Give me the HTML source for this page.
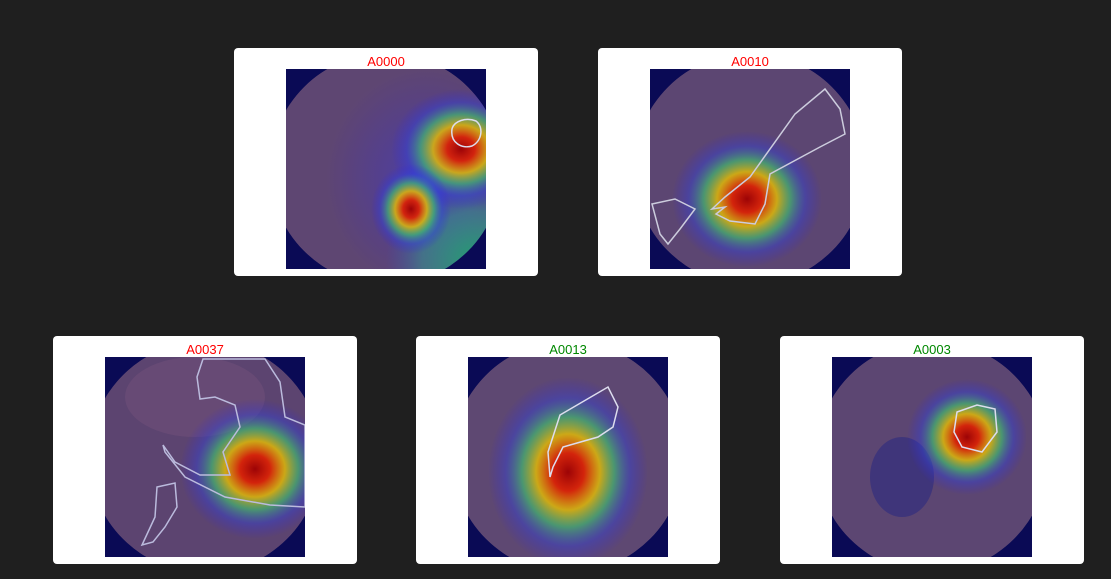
<!DOCTYPE html>
<html><head><meta charset="utf-8">
<style>
body{margin:0;width:1111px;height:579px;background:#1f1f1f;position:relative;overflow:hidden;font-family:"Liberation Sans",sans-serif}
.card{position:absolute;width:304px;height:228px;background:#fff;border-radius:4px}
.t{position:absolute;top:6px;left:0;width:100%;text-align:center;font-size:13px}
.card svg{position:absolute;left:52px;top:21px}
</style></head><body>
<svg width="0" height="0" style="position:absolute">
<defs>
<radialGradient id="heat">
<stop offset="0" stop-color="#a00000" stop-opacity="0.95"/>
<stop offset="0.2" stop-color="#e02000" stop-opacity="0.9"/>
<stop offset="0.4" stop-color="#e8c000" stop-opacity="0.8"/>
<stop offset="0.58" stop-color="#40c070" stop-opacity="0.65"/>
<stop offset="0.78" stop-color="#3040e0" stop-opacity="0.4"/>
<stop offset="1" stop-color="#3020e0" stop-opacity="0"/>
</radialGradient>
<radialGradient id="haze">
<stop offset="0" stop-color="#3a40e0" stop-opacity="0.5"/>
<stop offset="1" stop-color="#3a20d0" stop-opacity="0"/>
</radialGradient>
<radialGradient id="green" cx="0.9" cy="0.9" r="0.9">
<stop offset="0" stop-color="#20a070" stop-opacity="0.95"/>
<stop offset="0.6" stop-color="#30a090" stop-opacity="0.5"/>
<stop offset="1" stop-color="#3060c0" stop-opacity="0"/>
</radialGradient>
<clipPath id="cc"><circle cx="100" cy="100" r="116"/></clipPath>
</defs></svg>

<div class="card" style="left:234px;top:48px">
<div class="t" style="color:#f00">A0000</div>
<svg width="200" height="200">
<rect width="200" height="200" fill="#0a0a55"/>
<g clip-path="url(#cc)"><circle cx="100" cy="100" r="116" fill="#5e4672"/>
<ellipse cx="140" cy="110" rx="100" ry="110" fill="url(#haze)"/>
<rect x="100" y="110" width="100" height="90" fill="url(#green)"/>
<ellipse cx="175" cy="80" rx="70" ry="60" fill="url(#heat)"/>
<ellipse cx="125" cy="140" rx="40" ry="45" fill="url(#heat)"/>
</g>
<path d="M166,60 C168,52 180,48 190,52 C198,58 196,72 186,77 C176,80 164,74 166,60Z" fill="none" stroke="#dde" stroke-width="1.5"/>
</svg></div>

<div class="card" style="left:598px;top:48px">
<div class="t" style="color:#f00">A0010</div>
<svg width="200" height="200">
<rect width="200" height="200" fill="#0a0a55"/>
<g clip-path="url(#cc)"><circle cx="100" cy="100" r="116" fill="#5c4672"/>
<ellipse cx="97" cy="130" rx="75" ry="68" fill="url(#heat)"/>
</g>
<path d="M62,140 L75,128 L100,108 L145,45 L175,20 L190,40 L195,65 L170,78 L120,105 L115,135 L105,155 L80,152 L66,145 L75,138Z" fill="none" stroke="#ccd" stroke-width="1.5"/>
<path d="M2,135 L25,130 L45,140 L30,160 L18,175 L10,165Z" fill="none" stroke="#ccd" stroke-width="1.5"/>
</svg></div>

<div class="card" style="left:53px;top:336px">
<div class="t" style="color:#f00">A0037</div>
<svg width="200" height="200">
<rect width="200" height="200" fill="#0a0a55"/>
<g clip-path="url(#cc)"><circle cx="100" cy="100" r="116" fill="#5c4470"/>
<ellipse cx="90" cy="40" rx="70" ry="40" fill="#6e4e78" opacity="0.6"/>
<ellipse cx="150" cy="112" rx="75" ry="70" fill="url(#heat)"/>
</g>
<path d="M98,2 L160,2 L175,25 L180,60 L200,68 L200,150 L165,148 L120,140 L80,120 L60,95 L58,88 L70,105 L95,118 L125,118 L118,95 L135,70 L130,48 L110,40 L95,42 L92,20Z" fill="none" stroke="#bbd" stroke-width="1.5"/>
<path d="M52,130 L70,126 L72,150 L60,170 L48,185 L37,188 L50,160Z" fill="none" stroke="#bbd" stroke-width="1.5"/>
</svg></div>

<div class="card" style="left:416px;top:336px">
<div class="t" style="color:#080">A0013</div>
<svg width="200" height="200">
<rect width="200" height="200" fill="#0a0a55"/>
<g clip-path="url(#cc)"><circle cx="100" cy="100" r="116" fill="#5e4872"/>
<ellipse cx="100" cy="115" rx="80" ry="95" fill="url(#heat)"/>
</g>
<path d="M92,58 L140,30 L150,50 L145,70 L130,80 L95,90 L85,110 L82,120 L80,95Z" fill="none" stroke="#dde" stroke-width="1.5"/>
</svg></div>

<div class="card" style="left:780px;top:336px">
<div class="t" style="color:#080">A0003</div>
<svg width="200" height="200">
<rect width="200" height="200" fill="#0a0a55"/>
<g clip-path="url(#cc)"><circle cx="100" cy="100" r="116" fill="#5c4672"/>
<ellipse cx="70" cy="120" rx="32" ry="40" fill="#2c2a80" opacity="0.6"/>
<ellipse cx="135" cy="80" rx="60" ry="58" fill="url(#heat)"/>
</g>
<path d="M125,55 L145,48 L163,52 L165,75 L150,95 L130,90 L122,75Z" fill="none" stroke="#dde" stroke-width="1.5"/>
</svg></div>
</body></html>
